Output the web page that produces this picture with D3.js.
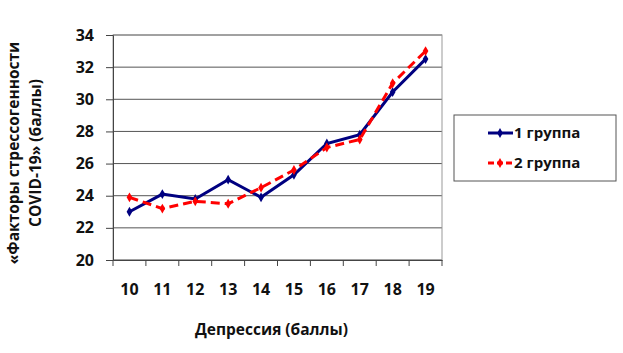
<!DOCTYPE html>
<html>
<head>
<meta charset="utf-8">
<script src="https://cdn.jsdelivr.net/npm/d3@7"></script>
<style>
  body { margin: 0; background: #fff; }
  text { font-family: "Open Sans", "Noto Sans", sans-serif; font-weight: bold; fill: #111; }
</style>
</head>
<body>
<div id="chart"></div>
<script>
// data
var categories = [10, 11, 12, 13, 14, 15, 16, 17, 18, 19];
var group1 = [23.0, 24.1, 23.8, 25.0, 23.9, 25.3, 27.25, 27.8, 30.45, 32.5];
var group2 = [23.9, 23.2, 23.65, 23.5, 24.5, 25.6, 27.0, 27.5, 31.0, 33.0];
var yTicks = [20, 22, 24, 26, 28, 30, 32, 34];
var seriesNames = ["1 группа", "2 группа"];

var width = 623, height = 353;
var margin = {top: 35, right: 181, bottom: 93, left: 113};
var plotW = width - margin.left - margin.right,
    plotH = height - margin.top - margin.bottom;

var svg = d3.select("#chart").append("svg")
    .attr("width", width)
    .attr("height", height);

var g = svg.append("g")
    .attr("transform", "translate(" + margin.left + "," + margin.top + ")");

var xScale = d3.scaleBand()
    .domain(categories)
    .range([0, plotW]);

var yScale = d3.scaleLinear()
    .domain([20, 34])
    .range([plotH, 0]);

// grid lines
g.selectAll(".grid")
    .data(yTicks)
    .enter().append("line")
    .attr("class", "grid")
    .attr("x1", 0).attr("x2", plotW)
    .attr("y1", function(d){ return yScale(d); })
    .attr("y2", function(d){ return yScale(d); })
    .style("stroke", "#555")
    .style("stroke-width", 1);

// plot border
g.append("rect")
    .attr("width", plotW).attr("height", plotH)
    .style("fill", "none")
    .style("stroke", "#999")
    .style("stroke-width", 1);

// y axis
var yAxis = g.append("g")
    .call(d3.axisLeft(yScale).tickValues(yTicks).tickSize(7).tickPadding(12));
yAxis.select(".domain").style("stroke", "#444");
yAxis.selectAll(".tick line").style("stroke", "#444");
yAxis.selectAll("text").style("font-size", "16px");

// x axis
var xAxis = g.append("g")
    .attr("transform", "translate(0," + plotH + ")")
    .call(d3.axisBottom(xScale).tickSize(0).tickPadding(24));
xAxis.select(".domain").style("stroke", "#444");
xAxis.selectAll("text").style("font-size", "16px");

// x tick marks at band edges
g.selectAll(".xtick")
    .data(categories.concat(["end"]))
    .enter().append("line")
    .attr("x1", function(d, i){ return i < categories.length ? xScale(d) : plotW; })
    .attr("x2", function(d, i){ return i < categories.length ? xScale(d) : plotW; })
    .attr("y1", plotH).attr("y2", plotH + 6)
    .style("stroke", "#444");

// axis titles
svg.append("text")
    .attr("x", margin.left + plotW / 2 - 6)
    .attr("y", 335)
    .attr("text-anchor", "middle")
    .style("font-size", "15.5px")
    .text("Депрессия (баллы)");

var yTitle = svg.append("text")
    .attr("transform", "translate(0,153) rotate(-90)")
    .attr("text-anchor", "middle")
    .style("font-size", "15.5px");
yTitle.append("tspan").attr("x", 0).attr("y", 19).text("«Факторы стрессогенности");
yTitle.append("tspan").attr("x", 0).attr("y", 41).text("COVID-19» (баллы)");

// lines
var series = [
    {name: seriesNames[0], values: group1, color: "#000080", dash: null},
    {name: seriesNames[1], values: group2, color: "#ff0000", dash: "9,5"}
];

var line = d3.line()
    .x(function(d, i){ return xScale(categories[i]) + xScale.bandwidth() / 2; })
    .y(function(d){ return yScale(d); });

var diamond = d3.symbol().type(d3.symbolDiamond).size(28);

series.forEach(function(s){
    g.append("path")
        .datum(s.values)
        .attr("d", line)
        .style("fill", "none")
        .style("stroke", s.color)
        .style("stroke-width", 3)
        .style("stroke-dasharray", s.dash);

    g.selectAll(null)
        .data(s.values)
        .enter().append("path")
        .attr("d", diamond)
        .attr("transform", function(d, i){
            return "translate(" + (xScale(categories[i]) + xScale.bandwidth() / 2) + "," + yScale(d) + ")";
        })
        .style("fill", s.color);
});

// legend
var legend = svg.append("g").attr("transform", "translate(454,115)");
legend.append("rect")
    .attr("width", 162).attr("height", 66)
    .style("fill", "#fff")
    .style("stroke", "#555");

series.forEach(function(s, i){
    var row = legend.append("g").attr("transform", "translate(0," + (18 + i * 30) + ")");
    row.append("line")
        .attr("x1", 34).attr("x2", 59)
        .attr("y1", 0).attr("y2", 0)
        .style("stroke", s.color)
        .style("stroke-width", 3)
        .style("stroke-dasharray", s.dash ? "6,3" : null);
    row.append("path")
        .attr("d", diamond)
        .attr("transform", "translate(46,0)")
        .style("fill", s.color);
    row.append("text")
        .attr("x", 60).attr("y", 5)
        .style("font-size", "15px")
        .text(s.name);
});
</script>
</body>
</html>
